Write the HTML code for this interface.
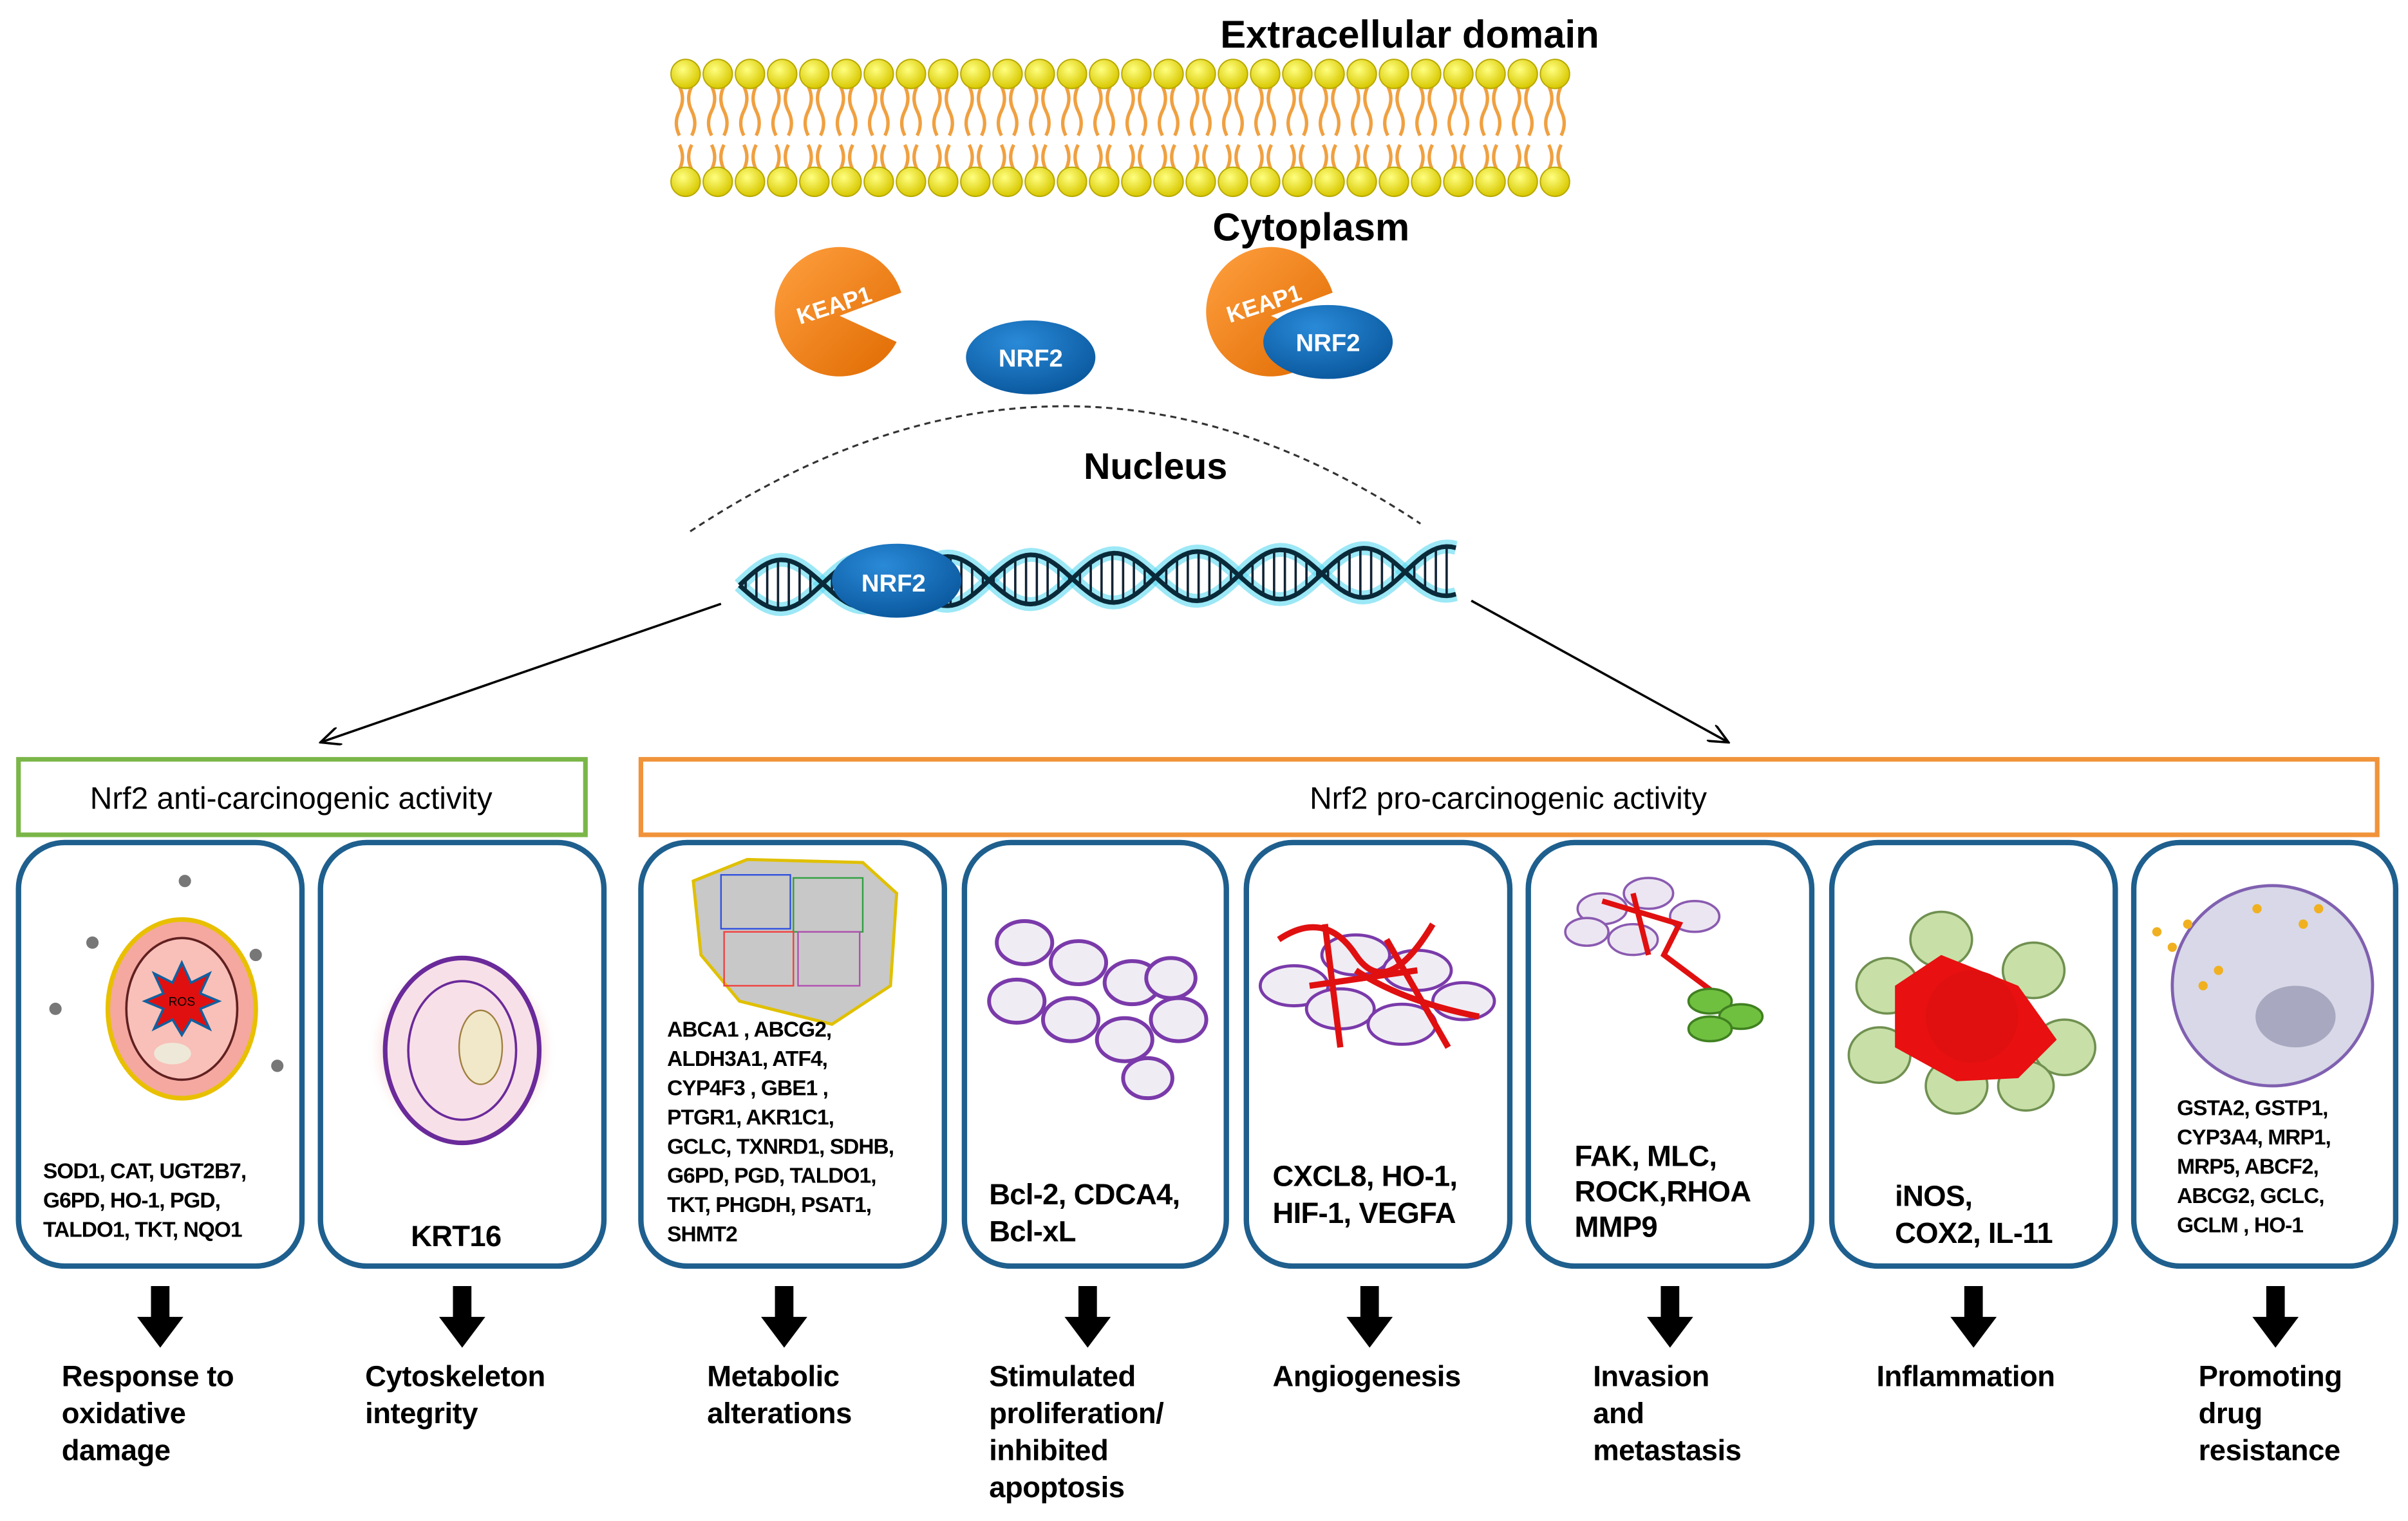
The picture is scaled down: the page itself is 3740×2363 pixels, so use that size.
<!DOCTYPE html>
<html><head><meta charset="utf-8"><style>
html,body{margin:0;padding:0;background:#fff}
svg{display:block}
text{font-family:"Liberation Sans",Arial,sans-serif}
.b{font-weight:bold}
.g{font-size:14px;font-weight:bold;letter-spacing:-0.4px}
.big{font-size:19px;font-weight:bold;letter-spacing:-0.3px}
.lab{font-size:19px;font-weight:bold;letter-spacing:-0.2px}
</style></head><body>
<svg id="s" width="3740" height="2363" viewBox="0 0 1563 987.5" xmlns="http://www.w3.org/2000/svg">
<defs>
<radialGradient id="head" cx="40%" cy="35%" r="65%"><stop offset="0" stop-color="#ffff80"/><stop offset="1" stop-color="#d8c800"/></radialGradient>
<linearGradient id="org" x1="0" y1="0" x2="1" y2="1"><stop offset="0" stop-color="#ffa040"/><stop offset="1" stop-color="#e06a00"/></linearGradient>
<radialGradient id="blu" cx="40%" cy="30%" r="70%"><stop offset="0" stop-color="#2a8ad8"/><stop offset="1" stop-color="#0b5aa0"/></radialGradient>
<radialGradient id="pink" cx="50%" cy="50%" r="50%"><stop offset="0.6" stop-color="#f08080"/><stop offset="1" stop-color="#fff" stop-opacity="0"/></radialGradient>
<marker id="ar" markerWidth="14" markerHeight="12" refX="13" refY="6" orient="auto" markerUnits="userSpaceOnUse"><path d="M0,0 L13,6 L0,12" fill="none" stroke="#000" stroke-width="1.5"/></marker>
</defs>
<text x="915" y="31" class="b" font-size="25" text-anchor="middle">Extracellular domain</text>
<g id="mem"></g>
<text x="851" y="156" class="b" font-size="25" text-anchor="middle">Cytoplasm</text>
<path d="M545,205 L585,190 A42,42 0 1 0 582,222 Z" fill="url(#org)"/>
<text x="543" y="203" fill="#fff" class="b" font-size="15" text-anchor="middle" transform="rotate(-18 543 203)">KEAP1</text>
<ellipse cx="669" cy="232" rx="42" ry="24" fill="url(#blu)"/>
<text x="669" y="238" fill="#fff" class="b" font-size="16" text-anchor="middle">NRF2</text>
<path d="M825,205 L865,190 A42,42 0 1 0 862,222 Z" fill="url(#org)"/>
<text x="822" y="202" fill="#fff" class="b" font-size="15" text-anchor="middle" transform="rotate(-18 822 202)">KEAP1</text>
<ellipse cx="862" cy="222" rx="42" ry="24" fill="url(#blu)"/>
<text x="862" y="228" fill="#fff" class="b" font-size="16" text-anchor="middle">NRF2</text>
<path d="M448,345 Q690,185 922,340" fill="none" stroke="#333" stroke-width="1.3" stroke-dasharray="4,3"/>
<text x="750" y="311" class="b" font-size="24" text-anchor="middle">Nucleus</text>
<g id="dna"></g>
<ellipse cx="582" cy="377" rx="42" ry="24" fill="url(#blu)"/>
<text x="580" y="384" fill="#fff" class="b" font-size="16" text-anchor="middle">NRF2</text>
<line x1="468" y1="392" x2="208" y2="482" stroke="#000" stroke-width="1.5" marker-end="url(#ar)"/>
<line x1="955" y1="390" x2="1122" y2="482" stroke="#000" stroke-width="1.5" marker-end="url(#ar)"/>
<rect x="12" y="493" width="368" height="49" fill="#fff" stroke="#7ab648" stroke-width="3"/>
<text x="189" y="525" font-size="20" text-anchor="middle">Nrf2 anti-carcinogenic activity</text>
<rect x="416" y="493" width="1127" height="49" fill="#fff" stroke="#f0933a" stroke-width="3"/>
<text x="979" y="525" font-size="20" text-anchor="middle">Nrf2 pro-carcinogenic activity</text>
<g id="panels" fill="#fff" stroke="#1e5f8e" stroke-width="3.5">
<rect x="12" y="547" width="184" height="275" rx="30"/>
<rect x="208" y="547" width="184" height="275" rx="30"/>
<rect x="416" y="547" width="197" height="275" rx="30"/>
<rect x="626" y="547" width="170" height="275" rx="30"/>
<rect x="809" y="547" width="171" height="275" rx="30"/>
<rect x="992" y="547" width="184" height="275" rx="30"/>
<rect x="1189" y="547" width="184" height="275" rx="30"/>
<rect x="1385" y="547" width="170" height="275" rx="30"/>
</g>
<g>
<ellipse cx="118" cy="655" rx="48" ry="58" fill="#f4a8a0" stroke="#e8c000" stroke-width="3"/>
<ellipse cx="118" cy="655" rx="36" ry="46" fill="#f8c0b8" stroke="#602020" stroke-width="1.5"/>
<polygon points="118,625 124,638 136,632 130,645 142,650 130,655 136,668 124,662 118,672 112,662 100,668 106,655 94,650 106,645 100,632 112,638" fill="#e01010" stroke="#1060a0" stroke-width="1.5"/>
<text x="118" y="653" font-size="8" fill="#000" text-anchor="middle">ROS</text>
<ellipse cx="112" cy="684" rx="12" ry="7" fill="#eee8d8"/>
<g fill="#777"><circle cx="120" cy="572" r="4"/><circle cx="60" cy="612" r="4"/><circle cx="166" cy="620" r="4"/><circle cx="36" cy="655" r="4"/><circle cx="180" cy="692" r="4"/></g>
<circle cx="300" cy="682" r="62" fill="url(#pink)"/>
<ellipse cx="300" cy="682" rx="50" ry="60" fill="#f8e0e8" stroke="#6a2a9a" stroke-width="3"/>
<ellipse cx="300" cy="682" rx="35" ry="45" fill="none" stroke="#6a2a9a" stroke-width="1.5"/>
<ellipse cx="312" cy="680" rx="14" ry="24" fill="#f0e8c8" stroke="#a08040"/>
<path d="M450,572 L485,558 L560,560 L582,580 L578,640 L540,665 L480,650 L455,620 Z" fill="#c8c8c8" stroke="#e0c000" stroke-width="2"/>
<rect x="468" y="568" width="45" height="35" fill="none" stroke="#3050e0"/>
<rect x="515" y="570" width="45" height="35" fill="none" stroke="#30a040"/>
<rect x="470" y="605" width="45" height="35" fill="none" stroke="#f04040"/>
<rect x="518" y="605" width="40" height="35" fill="none" stroke="#b050b0"/>
<g fill="#f0ecf4" stroke="#7a3aaa" stroke-width="2.5">
<ellipse cx="665" cy="612" rx="18" ry="14"/><ellipse cx="700" cy="625" rx="18" ry="14"/><ellipse cx="735" cy="638" rx="18" ry="14"/><ellipse cx="660" cy="650" rx="18" ry="14"/><ellipse cx="695" cy="662" rx="18" ry="14"/><ellipse cx="730" cy="675" rx="18" ry="14"/><ellipse cx="765" cy="662" rx="18" ry="14"/><ellipse cx="760" cy="635" rx="16" ry="13"/><ellipse cx="745" cy="700" rx="16" ry="13"/>
</g>
<g fill="#f0ecf4" stroke="#7a3aaa" stroke-width="2">
<ellipse cx="840" cy="640" rx="22" ry="13"/><ellipse cx="880" cy="620" rx="22" ry="13"/><ellipse cx="920" cy="630" rx="22" ry="13"/><ellipse cx="950" cy="650" rx="20" ry="12"/><ellipse cx="870" cy="655" rx="22" ry="13"/><ellipse cx="910" cy="665" rx="22" ry="13"/>
</g>
<path d="M830,610 Q860,590 880,620 T930,600 M860,600 L870,680 M880,630 Q910,650 960,660 M900,610 L940,680 M850,640 L920,630" fill="none" stroke="#e01010" stroke-width="4"/>
<g fill="#ece6f2" stroke="#8a5ab0" stroke-width="1.5"><ellipse cx="1040" cy="590" rx="16" ry="10"/><ellipse cx="1070" cy="580" rx="16" ry="10"/><ellipse cx="1100" cy="595" rx="16" ry="10"/><ellipse cx="1060" cy="610" rx="16" ry="10"/><ellipse cx="1030" cy="605" rx="14" ry="9"/></g>
<path d="M1040,585 L1090,600 L1080,620 L1120,650 M1060,580 L1070,620" fill="none" stroke="#e01010" stroke-width="3.5"/>
<g fill="#70c040" stroke="#408020" stroke-width="1.5"><ellipse cx="1110" cy="650" rx="14" ry="8"/><ellipse cx="1130" cy="660" rx="14" ry="8"/><ellipse cx="1110" cy="668" rx="14" ry="8"/></g>
<g fill="#c8e0a8" stroke="#709050" stroke-width="1.5"><ellipse cx="1225" cy="640" rx="20" ry="18"/><ellipse cx="1260" cy="610" rx="20" ry="18"/><ellipse cx="1320" cy="630" rx="20" ry="18"/><ellipse cx="1340" cy="680" rx="20" ry="18"/><ellipse cx="1220" cy="685" rx="20" ry="18"/><ellipse cx="1270" cy="705" rx="20" ry="18"/><ellipse cx="1315" cy="705" rx="18" ry="16"/></g>
<path d="M1230,640 L1260,620 L1310,640 L1335,675 L1310,700 L1270,702 L1230,680 Z" fill="#e81010"/>
<circle cx="1280" cy="660" r="30" fill="#e01010"/>
<circle cx="1475" cy="640" r="65" fill="#d8d8e8" stroke="#8060b0" stroke-width="2"/>
<ellipse cx="1490" cy="660" rx="26" ry="20" fill="#a8a8c0"/>
<g fill="#f0b020"><circle cx="1400" cy="605" r="3"/><circle cx="1410" cy="615" r="3"/><circle cx="1420" cy="600" r="3"/><circle cx="1430" cy="640" r="3"/><circle cx="1440" cy="630" r="3"/><circle cx="1465" cy="590" r="3"/><circle cx="1495" cy="600" r="3"/><circle cx="1505" cy="590" r="3"/></g>
</g>
<g class="g">
<text x="28" y="765">SOD1, CAT, UGT2B7,</text>
<text x="28" y="784">G6PD,  HO-1, PGD,</text>
<text x="28" y="803">TALDO1, TKT, NQO1</text>
<text x="433" y="673">ABCA1 , ABCG2,</text>
<text x="433" y="692">ALDH3A1, ATF4,</text>
<text x="433" y="711">CYP4F3 , GBE1 ,</text>
<text x="433" y="730">PTGR1,  AKR1C1,</text>
<text x="433" y="749">GCLC, TXNRD1, SDHB,</text>
<text x="433" y="768">G6PD, PGD, TALDO1,</text>
<text x="433" y="787">TKT, PHGDH, PSAT1,</text>
<text x="433" y="806">SHMT2</text>
<text x="1413" y="724">GSTA2, GSTP1,</text>
<text x="1413" y="743">CYP3A4,  MRP1,</text>
<text x="1413" y="762">MRP5,  ABCF2,</text>
<text x="1413" y="781">ABCG2, GCLC,</text>
<text x="1413" y="800">GCLM ,  HO-1</text>
</g>
<g class="big">
<text x="296" y="809" text-anchor="middle">KRT16</text>
<text x="642" y="782">Bcl-2, CDCA4,</text>
<text x="642" y="806">Bcl-xL</text>
<text x="826" y="770">CXCL8, HO-1,</text>
<text x="826" y="794">HIF-1, VEGFA</text>
<text x="1022" y="757">FAK, MLC,</text>
<text x="1022" y="780">ROCK,RHOA</text>
<text x="1022" y="803">MMP9</text>
<text x="1230" y="783">iNOS,</text>
<text x="1230" y="807">COX2, IL-11</text>
</g>
<g id="arrows" fill="#000"></g>
<g class="lab">
<text x="40" y="900">Response to</text><text x="40" y="924">oxidative</text><text x="40" y="948">damage</text>
<text x="237" y="900">Cytoskeleton</text><text x="237" y="924">integrity</text>
<text x="459" y="900">Metabolic</text><text x="459" y="924">alterations</text>
<text x="642" y="900">Stimulated</text><text x="642" y="924">proliferation/</text><text x="642" y="948">inhibited</text><text x="642" y="972">apoptosis</text>
<text x="826" y="900">Angiogenesis</text>
<text x="1034" y="900">Invasion</text><text x="1034" y="924">and</text><text x="1034" y="948">metastasis</text>
<text x="1218" y="900">Inflammation</text>
<text x="1427" y="900">Promoting</text><text x="1427" y="924">drug</text><text x="1427" y="948">resistance</text>
</g>
</svg>
<script>
var m=document.getElementById("mem"),h="";
for(var x=445;x<=1010;x+=20.9){
 h+='<path d="M'+(x-4)+',56 q4,8 0,16 q-4,8 0,16 M'+(x+4)+',56 q-4,8 0,16 q4,8 0,16" fill="none" stroke="#f0a040" stroke-width="2.2"/>';
 h+='<path d="M'+(x-4)+',110 q4,-8 0,-16 M'+(x+4)+',110 q-4,-8 0,-16" fill="none" stroke="#f0a040" stroke-width="2.2"/>';
}
for(var x=445;x<=1010;x+=20.9){
 h+='<circle cx="'+x+'" cy="48" r="9.5" fill="url(#head)" stroke="#b8a800" stroke-width="0.8"/>';
 h+='<circle cx="'+x+'" cy="118" r="9.5" fill="url(#head)" stroke="#b8a800" stroke-width="0.8"/>';
}
m.innerHTML=h;
var a="",b="",r="",P=108;
for(var x=480;x<=945;x+=3){var t=(x-480)/P*2*Math.PI,o=(x-480)*0.02,y1=380+16*Math.sin(t)-o,y2=380-16*Math.sin(t)-o;a+=(x==480?"M":"L")+x+","+y1;b+=(x==480?"M":"L")+x+","+y2;}
for(var x=484;x<=945;x+=7){var t=(x-480)/P*2*Math.PI,o=(x-480)*0.02;r+="M"+x+","+(380+16*Math.sin(t)-o)+"L"+x+","+(380-16*Math.sin(t)-o);}
document.getElementById("dna").innerHTML='<path d="'+a+'" fill="none" stroke="#5ad8f0" stroke-width="9" opacity="0.6"/><path d="'+b+'" fill="none" stroke="#5ad8f0" stroke-width="9" opacity="0.6"/><path d="'+r+'" stroke="#123" stroke-width="1.5"/><path d="'+a+'" fill="none" stroke="#0a2a3a" stroke-width="3"/><path d="'+b+'" fill="none" stroke="#0a2a3a" stroke-width="3"/>';
var cx=[104,300,509,706,889,1084,1281,1477],s="";
cx.forEach(function(c){s+='<polygon points="'+(c-6)+',835 '+(c+6)+',835 '+(c+6)+',855 '+(c+15)+',855 '+c+',875 '+(c-15)+',855 '+(c-6)+',855"/>';});
document.getElementById("arrows").innerHTML=s;
</script>
</body></html>
